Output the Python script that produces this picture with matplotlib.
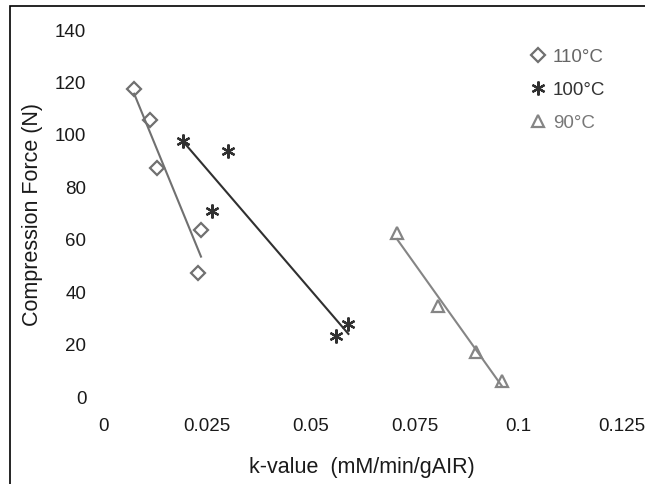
import numpy as np
import matplotlib
matplotlib.use("Agg")
import matplotlib.pyplot as plt
from matplotlib.patches import Rectangle

plt.rcParams['font.family'] = ['Liberation Sans', 'DejaVu Sans']

# data
k_110 = [0.0075, 0.0113, 0.0129, 0.0236, 0.0228]
f_110 = [117.2, 105.3, 87.0, 63.4, 47.0]

k_100 = [0.0192, 0.0302, 0.0262, 0.0561, 0.0591]
f_100 = [97.1, 93.4, 70.7, 22.8, 27.5]

k_90 = [0.0708, 0.0807, 0.0898, 0.0961]
f_90 = [62.2, 34.5, 16.7, 5.8]

STAR = (6, 2, 0)
series = [
    ('110°C', k_110, f_110, 'D', '#707070', 7, '#666666'),
    ('100°C', k_100, f_100, STAR, '#303030', 10, '#333333'),
    ('90°C', k_90, f_90, '^', '#858585', 9, '#777777'),
]

xticks = [0, 0.025, 0.05, 0.075, 0.1, 0.125]
xticklabels = ['0', '0.025', '0.05', '0.075', '0.1', '0.125']
yticks = [0, 20, 40, 60, 80, 100, 120, 140]

fig = plt.figure(figsize=(6.45, 4.85), dpi=100)
ax = fig.add_axes([0.1597, 0.1814, 0.8047, 0.7567])

for name, x, y, m, c, ms, tc in series:
    ax.plot(x, y, linestyle='none', marker=m, markersize=ms,
            markerfacecolor=c if m == STAR else 'none',
            markeredgecolor=c, markeredgewidth=1.6, label=name)
    # linear trendline over the data range
    p = np.polyfit(x, y, 1)
    xs = np.array([min(x), max(x)])
    ax.plot(xs, np.polyval(p, xs), color=c, lw=1.5)

ax.set_xlim(0, 0.125)
ax.set_ylim(0, 140)
ax.set_xticks(xticks)
ax.set_xticklabels(xticklabels)
ax.set_yticks(yticks)
ax.tick_params(length=0, labelsize=13.5, colors='#1a1a1a')
ax.tick_params(axis='y', pad=12)
ax.tick_params(axis='x', pad=15)
for s in ax.spines.values():
    s.set_visible(False)

leg = fig.legend(loc='upper left', bbox_to_anchor=(0.8225, 0.899), frameon=False,
                 fontsize=13.5, handlelength=0.8, handletextpad=0.4,
                 labelspacing=0.85, borderpad=0, borderaxespad=0)
for t, s in zip(leg.get_texts(), series):
    t.set_color(s[6])

fig.text(0.051, 0.557, 'Compression Force (N)', rotation=90, ha='center',
         va='center', fontsize=15.5, color='#1a1a1a')
fig.text(0.561, 0.037, 'k-value  (mM/min/gAIR)', ha='center', va='center',
         fontsize=15.5, color='#1a1a1a')

fig.patches.append(Rectangle((0.0155, -0.1), 1.2, 1.085, transform=fig.transFigure,
                             fill=False, edgecolor='black', lw=1.2))

fig.savefig('out.png', dpi=100)
